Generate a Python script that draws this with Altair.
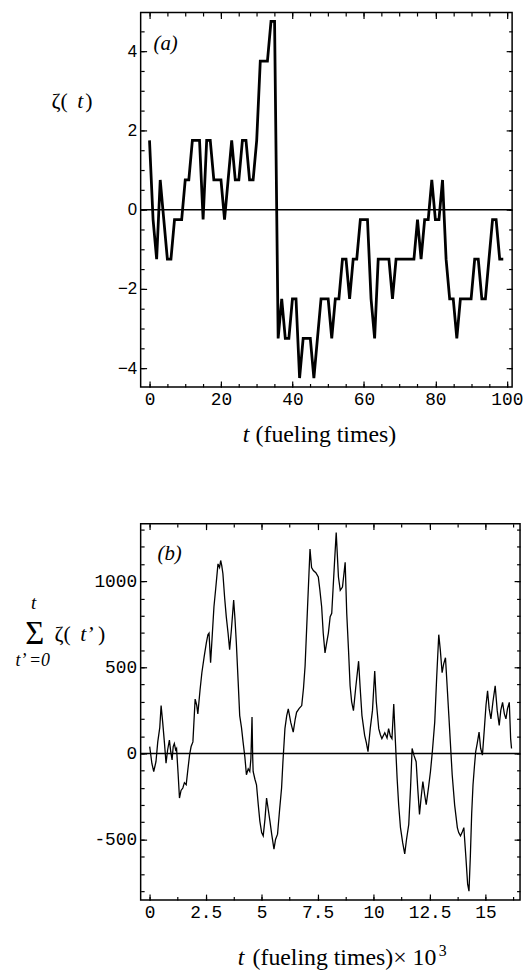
import altair as alt
import pandas as pd

# ---------------- Panel (a): zeta(t) ----------------
a_t = list(range(100))
a_zeta = [1.75, -0.25, -1.25, 0.75, -0.25, -1.25, -1.25, -0.25, -0.25, -0.25,
          0.75, 0.75, 1.75, 1.75, 1.75, -0.25, 1.75, 1.75, 0.75, 0.75,
          0.75, -0.25, 0.75, 1.75, 0.75, 0.75, 1.75, 1.75, 0.75, 0.75,
          1.75, 3.75, 3.75, 3.75, 4.75, 4.75, -3.25, -2.25, -3.25, -3.25,
          -2.25, -2.25, -4.25, -3.25, -3.25, -3.25, -4.25, -3.25, -2.25, -2.25,
          -2.25, -3.25, -2.25, -2.25, -1.25, -1.25, -2.25, -1.25, -1.25, -0.25,
          -0.25, -0.25, -2.25, -3.25, -1.25, -1.25, -1.25, -1.25, -2.25, -1.25,
          -1.25, -1.25, -1.25, -1.25, -1.25, -0.25, -1.25, -0.25, -0.25, 0.75,
          -0.25, -0.25, 0.75, -1.25, -2.25, -2.25, -3.25, -2.25, -2.25, -2.25,
          -2.25, -1.25, -1.25, -2.25, -2.25, -1.25, -0.25, -0.25, -1.25, -1.25]

# ---------------- Panel (b): cumulative sum ----------------
b_t = [0.00, 0.10, 0.18, 0.28, 0.36, 0.45, 0.51, 0.58, 0.66, 0.73, 0.80, 0.88, 0.94, 1.00,
       1.05, 1.10, 1.16, 1.20, 1.27, 1.33, 1.40, 1.48, 1.55, 1.63, 1.70, 1.78, 1.85, 1.93,
       2.03, 2.10, 2.15, 2.25, 2.33, 2.43, 2.53, 2.60, 2.65, 2.72, 2.80, 2.87, 2.95, 3.05,
       3.12, 3.17, 3.22, 3.27, 3.35, 3.42, 3.50, 3.57, 3.65, 3.75, 3.81, 3.87, 3.95, 4.02,
       4.10, 4.17, 4.25, 4.32, 4.40, 4.47, 4.52, 4.57, 4.60, 4.62, 4.70, 4.77, 4.85, 4.92,
       5.00, 5.07, 5.15, 5.22, 5.30, 5.37, 5.45, 5.55, 5.62, 5.71, 5.80, 5.89, 5.95, 6.04,
       6.12, 6.19, 6.30, 6.41, 6.50, 6.56, 6.67, 6.79, 6.87, 6.94, 7.05, 7.16, 7.23, 7.31,
       7.42, 7.53, 7.60, 7.68, 7.75, 7.83, 7.90, 7.98, 8.06, 8.13, 8.25, 8.33, 8.43, 8.51,
       8.61, 8.68, 8.73, 8.80, 8.88, 8.95, 9.02, 9.10, 9.20, 9.33, 9.40, 9.48, 9.60, 9.68,
       9.75, 9.85, 9.95, 10.05, 10.12, 10.23, 10.30, 10.37, 10.50, 10.60, 10.67, 10.75,
       10.82, 10.90, 10.97, 11.05, 11.12, 11.20, 11.30, 11.39, 11.47, 11.57, 11.65, 11.72,
       11.80, 11.90, 11.97, 12.05, 12.12, 12.20, 12.28, 12.35, 12.45, 12.54, 12.63, 12.73,
       12.82, 12.91, 12.98, 13.06, 13.13, 13.21, 13.28, 13.36, 13.43, 13.51, 13.62, 13.74,
       13.80, 13.88, 13.95, 14.03, 14.12, 14.20, 14.26, 14.32, 14.38, 14.44, 14.50, 14.56,
       14.63, 14.71, 14.78, 14.86, 14.95, 15.02, 15.09, 15.16, 15.24, 15.33, 15.43, 15.52,
       15.61, 15.68, 15.76, 15.84, 15.91, 15.98, 16.06, 16.12, 16.16]
b_sum = [40, -60, -105, -48, 67, 150, 278, 182, 60, -57, 20, 77, 10, -38,
         40, 57, 20, 29, -120, -259, -215, -201, -170, -182, -100, -10, 40, 67,
         316, 280, 230, 370, 469, 560, 642, 690, 699, 527, 700, 852, 960, 1101,
         1080, 1121, 1090, 1044, 900, 795, 700, 603, 720, 891, 780, 642, 420, 220,
         150, 67, -20, -124, -90, -105, -30, 211, -20, -105, -150, -182, -300, -393,
         -460, -479, -380, -259, -330, -393, -470, -556, -500, -469, -330, -201, -50, 144,
         220, 259, 180, 124, 200, 239, 260, 278, 380, 508, 850, 1188, 1080, 1063,
         1050, 1025, 950, 852, 700, 584, 640, 699, 795, 814, 1100, 1283, 1025, 948,
         967, 1050, 1111, 814, 600, 393, 300, 249, 380, 536, 380, 220, 105, 60,
         10, 144, 250, 479, 300, 144, 110, 86, 120, 90, 144, 100,
         86, 287, 80, -144, -300, -431, -520, -584, -500, -412, -200, 29,
         -10, -48, -200, -354, -260, -163, -240, -297, -200, -105, 20, 182,
         450, 690, 600, 469, 520, 556, 400, 220, 60, -124, -300, -431,
         -460, -479, -460, -431, -600, -760, -800, -600, -350, -182, -80, 10,
         60, 124, 30, -10, 150, 280, 364, 260, 201, 300, 393, 250,
         163, 250, 297, 230, 201, 260, 297, 86, 29]

# tick values
a_x_major = [0, 20, 40, 60, 80, 100]
a_x_minor = list(range(0, 101, 5))
a_y_major = [-4, -2, 0, 2, 4]
a_y_minor = [i * 0.5 for i in range(-8, 10)]
b_x_major = [0, 2.5, 5, 7.5, 10, 12.5, 15]
b_x_minor = [i * 1.25 for i in range(0, 14)]
b_y_major = [-500, 0, 500, 1000]
b_y_minor = list(range(-800, 1301, 100))

df_a = pd.DataFrame({"t": a_t, "v": a_zeta})
df_b = pd.DataFrame({"t": b_t, "v": b_sum})
one = pd.DataFrame({"k": [0]})

SERIF = "Liberation Serif, 'Times New Roman', Times, serif"
MONO = "Liberation Mono, 'Courier New', Courier, monospace"
SANS = "Liberation Sans, Arial, Helvetica, sans-serif"


def ax(orient, values, size, labels=False, font=MONO, fs=18, pad=4,
       expr="'' + datum.value"):
    d = dict(orient=orient, values=values, domain=False, grid=False, title=None,
             tickSize=size, offset=-size, tickColor="black", tickWidth=1.2,
             labels=labels)
    if labels:
        d.update(labelFont=font, labelFontSize=fs, labelColor="black",
                 labelPadding=pad, labelExpr=expr, labelFlush=False,
                 labelOverlap=False)
    return alt.Axis(**d)


def txt(s, x, y, size, italic=False, align="left"):
    return alt.Chart(one).mark_text(
        text=s, font=SERIF, fontSize=size,
        fontStyle="italic" if italic else "normal",
        align=align, baseline="alphabetic", color="black"
    ).encode(x=alt.value(x), y=alt.value(y))


def panel(df, xdom, ydom, w, h, lw, xmaj, xmin, ymaj, ymin,
          yfont, yfs, yexpr, texts):
    xs = alt.Scale(domain=xdom, nice=False, zero=False)
    ys = alt.Scale(domain=ydom, nice=False, zero=False)
    base = alt.Chart(df)
    zero = alt.Chart(one).mark_rule(color="black", strokeWidth=1.5).encode(
        y=alt.YDatum(0, axis=None, scale=ys), x=alt.value(0), x2=alt.value(w))
    main = base.mark_line(color="black", strokeWidth=lw).encode(
        x=alt.X("t:Q", scale=xs, axis=ax("bottom", xmaj, 6, True, MONO, 18, 4)),
        y=alt.Y("v:Q", scale=ys, axis=ax("left", ymaj, 6, True, yfont, yfs, 4, yexpr)))
    l2 = base.mark_line(opacity=0).encode(
        x=alt.X("t:Q", scale=xs, axis=ax("top", xmaj, 6)),
        y=alt.Y("v:Q", scale=ys, axis=ax("right", ymaj, 6)))
    l3 = base.mark_line(opacity=0).encode(
        x=alt.X("t:Q", scale=xs, axis=ax("bottom", xmin, 3.5)),
        y=alt.Y("v:Q", scale=ys, axis=ax("left", ymin, 3.5)))
    l4 = base.mark_line(opacity=0).encode(
        x=alt.X("t:Q", scale=xs, axis=ax("top", xmin, 3.5)),
        y=alt.Y("v:Q", scale=ys, axis=ax("right", ymin, 3.5)))
    layers = [zero, main, l2, l3, l4] + texts
    return alt.layer(*layers).resolve_axis(x="independent", y="independent").properties(
        width=w, height=h)


WA, HA = 375, 378
WB, HB = 383, 380

texts_a = [
    txt("(a)", 13, 38, 21, italic=True),
    txt("ζ(", -90, 96, 22),
    txt("t", -64, 96, 22, italic=True),
    txt(")", -56, 96, 22),
    txt("t", 103, 434, 24, italic=True),
    txt("(fueling times)", 116, 434, 24),
]

texts_b = [
    txt("(b)", 17, 37, 21, italic=True),
    txt("t", -108, 86, 19, italic=True, align="center"),
    txt("Σ", -107, 121, 33, align="center"),
    txt("t’ =0", -109, 144, 18, italic=True, align="center"),
    txt("ζ(", -87, 118, 22),
    txt("t’", -61, 118, 22, italic=True),
    txt(")", -43, 118, 22),
    txt("t", 98, 446, 24, italic=True),
    txt("(fueling times)× 10", 113, 446, 24),
    txt("3", 301, 436, 16),
]

pa = panel(df_a, [-2.475, 101.475], [-4.475, 4.975], WA, HA, 2.8,
           a_x_major, a_x_minor, a_y_major, a_y_minor,
           SANS, 17, "replace('' + datum.value, '-', '−')", texts_a)
pb = panel(df_b, [-0.4035, 16.54], [-852, 1335], WB, HB, 1.3,
           b_x_major, b_x_minor, b_y_major, b_y_minor,
           MONO, 18, "'' + datum.value", texts_b)

chart = alt.vconcat(pa, pb, spacing=138, bounds="flush").properties(
    padding={"left": 13, "top": 6, "right": 0, "bottom": 0},
    background="white",
).configure_view(stroke="black", strokeWidth=1.5)

chart.save("out.html", embed_options={"renderer": "svg", "actions": False})
